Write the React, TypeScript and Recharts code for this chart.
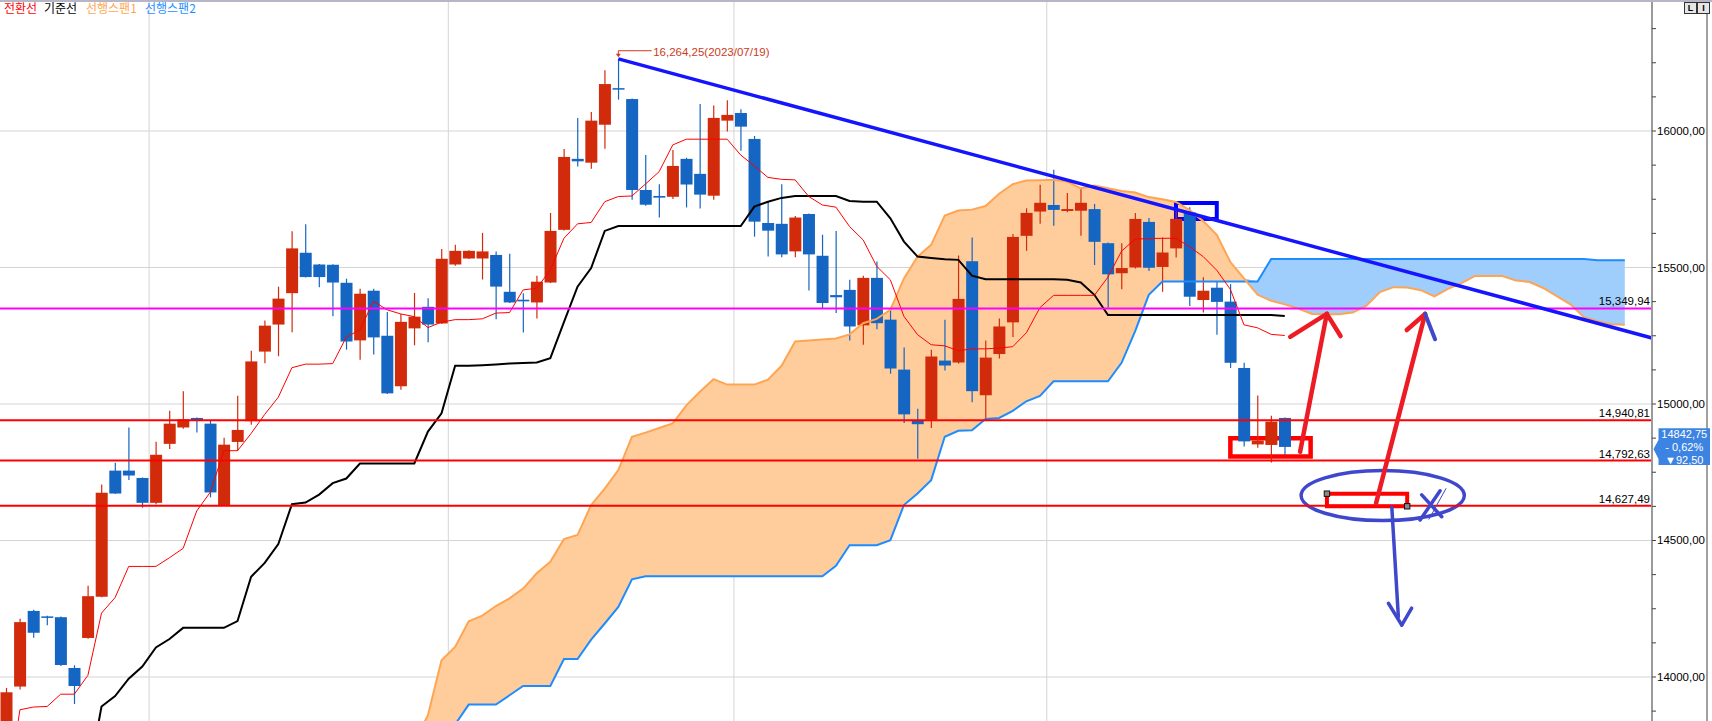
import React from 'react';
import {
  ComposedChart,
  XAxis,
  YAxis,
  CartesianGrid,
  Area,
  Line,
  Bar,
  ReferenceLine,
  ReferenceArea,
  ReferenceDot,
} from 'recharts';

// daily candles, index 0..94
const openP = [
  13820, 13965, 14242, 14222, 14219, 14033, 14143, 14294, 14756, 14756,
  14729, 14638, 14854, 14914, 14949, 14928, 14628, 14861, 14937, 15192,
  15291, 15406, 15554, 15511, 15510, 15444, 15233, 15415, 15250, 15065,
  15277, 15356, 15295, 15511, 15533, 15533, 15546, 15411, 15382, 15372,
  15445, 15638, 15898, 15884, 16023, 16157, 16117, 15784, 15762, 15759,
  15898, 15843, 15763, 16038, 16066, 15971, 15663, 15660, 15559, 15696,
  15543, 15399, 15418, 15288, 15462, 15309, 15126, 14940, 14943, 15159,
  15152, 15523, 15032, 15183, 15299, 15616, 15705, 15729, 15707, 15708,
  15714, 15589, 15479, 15500, 15667, 15502, 15570, 15702, 15381, 15426,
  15375, 15132, 14852, 14850, 14949,
];
const highP = [
  13960, 14213, 14246, 14224, 14222, 14043, 14334, 14705, 14785, 14914,
  14731, 14862, 14975, 15047, 14951, 14941, 14876, 15030, 15195, 15306,
  15430, 15633, 15658, 15513, 15512, 15459, 15422, 15422, 15337, 15330,
  15407, 15387, 15568, 15583, 15563, 15627, 15559, 15550, 15406, 15470,
  15700, 15934, 16048, 16070, 16223, 16264.25, 16119, 15912, 15805, 15930,
  15902, 16099, 16093, 16113, 16080, 15982, 15741, 15805, 15689, 15698,
  15620, 15634, 15455, 15470, 15522, 15348, 15207, 14983, 15199, 15309,
  15544, 15610, 15233, 15313, 15623, 15717, 15803, 15858, 15773, 15788,
  15733, 15592, 15589, 15700, 15681, 15610, 15717, 15721, 15464, 15447,
  15439, 15151, 15031, 14957, 14951,
];
const lowP = [
  13800, 13954, 14144, 14190, 14040, 13901, 14140, 14292, 14670, 14722,
  14620, 14633, 14835, 14909, 14896, 14658, 14626, 14829, 14924, 15149,
  15175, 15263, 15463, 15428, 15321, 15199, 15162, 15181, 15037, 15052,
  15215, 15226, 15293, 15506, 15531, 15456, 15310, 15370, 15262, 15313,
  15443, 15636, 15870, 15862, 15935, 16115, 15748, 15726, 15683, 15751,
  15720, 15716, 15748, 15998, 15928, 15613, 15540, 15538, 15538, 15416,
  15351, 15333, 15233, 15217, 15274, 15111, 14930, 14799, 14912, 15123,
  15148, 15006, 14945, 15167, 15245, 15561, 15660, 15653, 15702, 15616,
  15509, 15353, 15420, 15496, 15487, 15411, 15537, 15359, 15335, 15254,
  15132, 14844, 14840, 14786, 14814,
];
const closeP = [
  13944, 14201, 14162, 14218, 14044, 13967, 14296, 14675, 14672, 14738,
  14638, 14814, 14928, 14944, 14939, 14676, 14851, 14905, 15156, 15287,
  15386, 15570, 15465, 15465, 15445, 15229, 15404, 15244, 15039, 15301,
  15320, 15291, 15532, 15561, 15561, 15559, 15430, 15372, 15376, 15448,
  15634, 15905, 15889, 16038, 16172, 16153, 15784, 15730, 15756, 15872,
  15804, 15767, 16048, 16059, 16016, 15668, 15635, 15548, 15683, 15548,
  15370, 15391, 15284, 15462, 15296, 15130, 14962, 14926, 15174, 15141,
  15385, 15047, 15170, 15284, 15612, 15700, 15737, 15711, 15714, 15737,
  15594, 15475, 15498, 15678, 15499, 15555, 15678, 15393, 15415, 15374,
  15151, 14863, 14866, 14935.25, 14842.75,
];

// 전환선 / 기준선
const tenkan = [
  13550, 13880, 13890, 13892, 13937, 13937, 14006, 14234, 14291, 14405,
  14405, 14405, 14437, 14471, 14608, 14677, 14829, 14829, 14892, 14962,
  15025, 15133, 15146, 15146, 15148, 15245, 15272, 15376, 15345, 15330,
  15320, 15280, 15300, 15309, 15309, 15312, 15333, 15335, 15418, 15424,
  15491, 15607, 15660, 15665, 15741, 15760, 15762, 15806, 15851, 15949,
  15970, 15970, 15970, 15970, 15912, 15872, 15830, 15823, 15821, 15760,
  15729, 15721, 15650, 15601, 15504, 15455, 15321, 15254, 15217, 15213,
  15195, 15202, 15202, 15205, 15210, 15261, 15353, 15398, 15398, 15398,
  15398, 15465, 15560, 15604, 15606, 15607, 15607, 15576, 15540, 15490,
  15420, 15290, 15279, 15255, 15251,
];
const kijun = [
  null, null, null, null, null, null, 13620, 13892, 13930, 13994,
  14038, 14108, 14139, 14180, 14180, 14180, 14180, 14205, 14367, 14418,
  14487, 14633, 14639, 14668, 14710, 14727, 14782, 14782, 14782, 14782,
  14782, 14899, 14966, 15140, 15140, 15142, 15145, 15148, 15150, 15152,
  15168, 15300, 15430, 15498, 15634, 15652, 15652, 15652, 15652, 15652,
  15652, 15652, 15652, 15652, 15652, 15723, 15741, 15755, 15762, 15762,
  15762, 15762, 15744, 15741, 15741, 15680, 15595, 15540, 15535, 15530,
  15528, 15470, 15457, 15457, 15457, 15457, 15457, 15457, 15455, 15445,
  15400, 15326, 15326, 15326, 15326, 15326, 15326, 15326, 15326, 15326,
  15326, 15326, 15326, 15326, 15322,
];

// 선행스팬1 / 선행스팬2, index 0..119 (25 bars ahead of the last candle)
const span1 = [
  null, null, null, null, null, null, null, null, null, null,
  null, null, null, null, null, null, null, null, null, null,
  null, null, null, null, null, null, null, null, null, null,
  13760, 13860, 14061, 14110, 14204, 14225, 14260, 14288, 14324, 14380,
  14422, 14505, 14520, 14630, 14690, 14758, 14880, 14895, 14912, 14929,
  14995, 15045, 15091, 15071, 15071, 15071, 15089, 15140, 15229, 15233,
  15236, 15240, 15255, 15296, 15312, 15345, 15460, 15540, 15583, 15690,
  15709, 15712, 15725, 15770, 15805, 15819, 15820, 15821, 15815, 15790,
  15800, 15790, 15780, 15775, 15758, 15750, 15740, 15710, 15670, 15620,
  15520, 15460, 15400, 15378, 15365, 15350, 15330, 15329, 15329, 15335,
  15360, 15410, 15428, 15427, 15417, 15394, 15422, 15443, 15469, 15469,
  15469, 15452, 15447, 15425, 15395, 15365, 15318, 15303, 15292, 15290,
];
const span2 = [
  null, null, null, null, null, null, null, null, null, null,
  null, null, null, null, null, null, null, null, null, null,
  null, null, null, null, null, null, null, null, null, null,
  13550, 13600, 13700, 13826, 13899, 13899, 13899, 13933, 13967, 13967,
  13967, 14066, 14066, 14137, 14196, 14257, 14358, 14369, 14369, 14369,
  14369, 14369, 14369, 14369, 14369, 14369, 14369, 14369, 14369, 14369,
  14369, 14407, 14483, 14483, 14483, 14501, 14630, 14672, 14721, 14880,
  14902, 14904, 14945, 14949, 14975, 15010, 15030, 15083, 15083, 15083,
  15083, 15083, 15151, 15267, 15400, 15449, 15449, 15449, 15449, 15449,
  15449, 15449, 15449, 15531, 15531, 15531, 15531, 15531, 15531, 15531,
  15531, 15531, 15531, 15531, 15531, 15531, 15531, 15531, 15531, 15531,
  15531, 15531, 15531, 15531, 15531, 15531, 15531, 15527, 15527, 15527,
];

const yTicks = [
  13875, 14000, 14125, 14250, 14375, 14500, 14625, 14750, 14875, 15000,
  15125, 15250, 15375, 15500, 15625, 15750, 15875, 16000, 16125, 16250, 16375,
];
const yMajor = [14000, 14500, 15000, 15500, 16000];
const monthLines = [10.5, 32.5, 53.5, 76.5];

const levelValues = [15349.94, 14940.81, 14792.63, 14627.49];
const levelLabels = ['15,349,94', '14,940,81', '14,792,63', '14,627,49'];

const peakIndex = 45;
const peakText = '16,264,25(2023/07/19)';
const lastPrice = 14842.75;
const lastTexts = ['14842,75', '- 0,62%', '▼92,50'];

const legendItems = ['전환선', '기준선', '선행스팬1', '선행스팬2'];

const UP = '#d22b0b';
const DOWN = '#1565c2';
const PEN_RED = '#ed1c24';
const PEN_BLUE = '#3f48cc';
const PEAK = '#cc3a1a';
const FONT = '"Liberation Sans", Arial, sans-serif';

const rows = span1.map((s1, i) => {
  const s2 = span2[i];
  const has = s1 != null && s2 != null;
  return {
    i,
    s1,
    s2,
    tk: i < tenkan.length ? tenkan[i] : null,
    kj: i < kijun.length ? kijun[i] : null,
    o: openP[i] ?? null,
    h: highP[i] ?? null,
    l: lowP[i] ?? null,
    c: closeP[i] ?? null,
    band1: has ? [s2, Math.max(s1, s2)] : null,
    band2: has ? [s1, Math.max(s1, s2)] : null,
  };
});

const Candle = (props: any) => {
  const { x, y, width, height, payload } = props;
  if (!payload || payload.h == null) return <g />;
  const { o, h, l, c } = payload;
  const toY = (v: number) => y + ((h - v) / (h - l)) * height;
  const color = c >= o ? UP : DOWN;
  const cx = x + width / 2;
  const top = toY(Math.max(o, c));
  const bot = toY(Math.min(o, c));
  return (
    <g>
      <line x1={cx} x2={cx} y1={y} y2={y + height} stroke={color} strokeWidth={1.2} />
      <rect x={x} y={top} width={width} height={Math.max(bot - top, 1.5)} fill={color} />
    </g>
  );
};

const PriceTick = (props: any) => {
  const { x, y, payload } = props;
  if (!yMajor.includes(payload.value)) return <g />;
  return (
    <text x={x} y={y} dy={4} fontSize={11.5} fontFamily={FONT} fill="#000">
      {payload.value.toFixed(2).replace('.', ',')}
    </text>
  );
};

const levelLabel = (text: string) => (props: any) => {
  const { x, y, width } = props.viewBox;
  return (
    <text x={x + width - 2} y={y - 3} textAnchor="end" fontSize={11.5} fontFamily={FONT} fill="#000">
      {text}
    </text>
  );
};

const peakLabel = (props: any) => {
  const { x, y, width } = props.viewBox;
  return (
    <g>
      <line x1={x} y1={y} x2={x} y2={y + 5} stroke={PEAK} strokeWidth={1} />
      <path d={`M${x - 2.5},${y + 3} L${x + 2.5},${y + 3} L${x},${y + 6.5} Z`} fill={PEAK} />
      <text x={x + width + 1.5} y={y + 5.5} fontSize={11.5} fontFamily={FONT} fill={PEAK}>
        {peakText}
      </text>
    </g>
  );
};

const priceTag = (props: any) => {
  const { x, y, width } = props.viewBox;
  const tip = x + width + 1.5;
  const left = x + width + 6.5;
  const right = x + width + 58;
  const d = `M${left},${y - 18.6} L${right},${y - 18.6} L${right},${y + 18.1} L${left},${y + 18.1} L${left},${y + 12} L${tip},${y + 2} L${left},${y - 7} Z`;
  const cx = (left + right) / 2;
  return (
    <g>
      <path d={d} fill="#3d84e2" />
      {lastTexts.map((t, k) => (
        <text key={t} x={cx} y={y - 9.4 + k * 13} textAnchor="middle" fontSize={11} fontFamily={FONT} fill="#fff">
          {t}
        </text>
      ))}
    </g>
  );
};

const Ellipse = (props: any) => {
  const { x, y, width, height } = props;
  return (
    <ellipse
      cx={x + width / 2}
      cy={y + height / 2}
      rx={width / 2}
      ry={height / 2}
      fill="none"
      stroke={PEN_BLUE}
      strokeWidth={3.5}
    />
  );
};

const Handle = (props: any) => (
  <rect x={props.cx - 2.7} y={props.cy - 2.7} width={5.4} height={5.4} fill="#8a8a8a" stroke="#111" strokeWidth={1} />
);

const pen = (x1: number, y1: number, x2: number, y2: number, color: string, w: number, key: string) => (
  <ReferenceLine
    key={key}
    segment={[{ x: x1, y: y1 }, { x: x2, y: y2 }]}
    stroke={color}
    strokeWidth={w}
    strokeLinecap="round"
    ifOverflow="visible"
  />
);

export default function App() {
  return (
    <div style={{ position: 'relative', width: 1712, height: 721, overflow: 'hidden', background: '#fff' }}>
      <style>{'body{margin:0}'}</style>
      <div style={{ position: 'absolute', left: 1706, top: 0, width: 1.5, height: 721, background: '#a0a0a0' }} />
      <div style={{ position: 'absolute', left: 0, top: 0 }}>
        <ComposedChart width={1712} height={721} data={rows} margin={{ top: 0, right: 0, bottom: 0, left: 0 }}>
          <CartesianGrid horizontalValues={yMajor} verticalValues={monthLines} stroke="#d4d4d4" />
          <XAxis type="number" dataKey="i" domain={[-0.463, 121.0]} allowDataOverflow hide />
          <YAxis
            orientation="right"
            width={60}
            type="number"
            domain={[13838.8, 16479.9]}
            allowDataOverflow
            ticks={yTicks}
            interval={0}
            tick={PriceTick}
            tickSize={4}
            tickMargin={1}
            axisLine={{ stroke: '#9a9a9a', strokeWidth: 2 }}
            tickLine={{ stroke: '#444' }}
          />

          <Area dataKey="band1" type="linear" stroke="none" fill="#ffcd9c" fillOpacity={1} activeDot={false} isAnimationActive={false} />
          <Area dataKey="band2" type="linear" stroke="none" fill="#9fcdfc" fillOpacity={1} activeDot={false} isAnimationActive={false} />
          <Line dataKey="s2" type="linear" stroke="#1e8cff" strokeWidth={2} dot={false} activeDot={false} isAnimationActive={false} />
          <Line dataKey="s1" type="linear" stroke="#ffa552" strokeWidth={2} dot={false} activeDot={false} isAnimationActive={false} />
          <Line dataKey="kj" type="linear" stroke="#000" strokeWidth={2} dot={false} activeDot={false} isAnimationActive={false} />
          <Line dataKey="tk" type="linear" stroke="#ff0000" strokeWidth={1} dot={false} activeDot={false} isAnimationActive={false} />
          <Bar
            dataKey={(d: any) => (d.h == null ? null : [d.l, d.h])}
            shape={Candle}
            barSize={12}
            isAnimationActive={false}
          />

          {levelValues.map((v, k) => (
            <ReferenceLine
              key={v}
              y={v}
              stroke={k === 0 ? '#ff00ff' : '#ff0000'}
              strokeWidth={2}
              ifOverflow="visible"
              label={levelLabel(levelLabels[k])}
            />
          ))}

          <ReferenceLine
            segment={[{ x: peakIndex, y: 16294 }, { x: 47.45, y: 16294 }]}
            stroke={PEAK}
            strokeWidth={1}
            ifOverflow="visible"
            label={peakLabel}
          />
          <ReferenceLine
            segment={[{ x: peakIndex, y: highP[peakIndex] }, { x: 121.0, y: 15242 }]}
            stroke="#1414ff"
            strokeWidth={3.5}
            ifOverflow="visible"
          />

          <ReferenceArea x1={86} x2={89} y1={15678} y2={15736} fill="none" stroke="#0000ff" strokeWidth={4} ifOverflow="visible" />
          <ReferenceArea x1={90} x2={95.9} y1={14808} y2={14875} fill="none" stroke="#ff0000" strokeWidth={4.5} ifOverflow="visible" />
          <ReferenceArea x1={97.1} x2={103} y1={14625.3} y2={14671.5} fill="none" stroke="#ff0000" strokeWidth={4} ifOverflow="visible" />
          <ReferenceDot x={97.1} y={14671.5} r={3} shape={Handle} ifOverflow="visible" />
          <ReferenceDot x={103} y={14625.3} r={3} shape={Handle} ifOverflow="visible" />

          {pen(95.13, 14825, 97.09, 15330, PEN_RED, 4.5, 'a1')}
          {pen(94.4, 15246, 97.09, 15330, PEN_RED, 4.5, 'a1l')}
          {pen(97.09, 15330, 98.1, 15249, PEN_RED, 4.5, 'a1r')}
          {pen(100.71, 14636, 104.32, 15330, PEN_RED, 4.5, 'a2')}
          {pen(102.97, 15271, 104.32, 15330, PEN_RED, 4.5, 'a2l')}
          {pen(104.32, 15330, 105.05, 15237, PEN_BLUE, 4, 'a2r')}

          <ReferenceArea x1={95.2} x2={107.2} y1={14573} y2={14756} shape={Ellipse} ifOverflow="visible" />
          {pen(104.07, 14667, 105.54, 14587, PEN_BLUE, 3.5, 'x1')}
          {pen(105.42, 14682, 103.95, 14575, PEN_BLUE, 3.5, 'x2')}
          {pen(105.85, 14690, 104.6, 14578, PEN_BLUE, 1, 'x3')}
          {pen(101.87, 14622, 102.35, 14221, PEN_BLUE, 3.5, 'd1')}
          {pen(101.62, 14270, 102.6, 14190, PEN_BLUE, 3.5, 'd2')}
          {pen(102.6, 14190, 103.33, 14252, PEN_BLUE, 3.5, 'd3')}

          <ReferenceLine y={lastPrice} stroke="none" ifOverflow="visible" label={priceTag} />
        </ComposedChart>
      </div>

      <div style={{ position: 'absolute', left: 0, top: 0, width: 1712, height: 2, background: '#b6b6c6' }} />
      <div style={{ position: 'absolute', left: 1684, top: 2, display: 'flex' }}>
        {['L', 'I'].map((t) => (
          <div
            key={t}
            style={{
              width: 11,
              height: 10,
              border: '1px solid #333',
              background: '#e6e6e6',
              fontSize: 9,
              lineHeight: '10px',
              textAlign: 'center',
              fontFamily: FONT,
              fontWeight: 'bold',
            }}
          >
            {t}
          </div>
        ))}
      </div>
      {legendItems.map((t, k) => (
        <span
          key={t}
          style={{
            position: 'absolute',
            top: 2,
            left: [4, 44, 86, 145][k],
            fontSize: 12,
            lineHeight: 1,
            fontFamily: '"Noto Sans CJK KR", sans-serif',
            color: ['#ff0000', '#000000', '#ffa54f', '#1e90ff'][k],
            whiteSpace: 'nowrap',
          }}
        >
          {t}
        </span>
      ))}
    </div>
  );
}
